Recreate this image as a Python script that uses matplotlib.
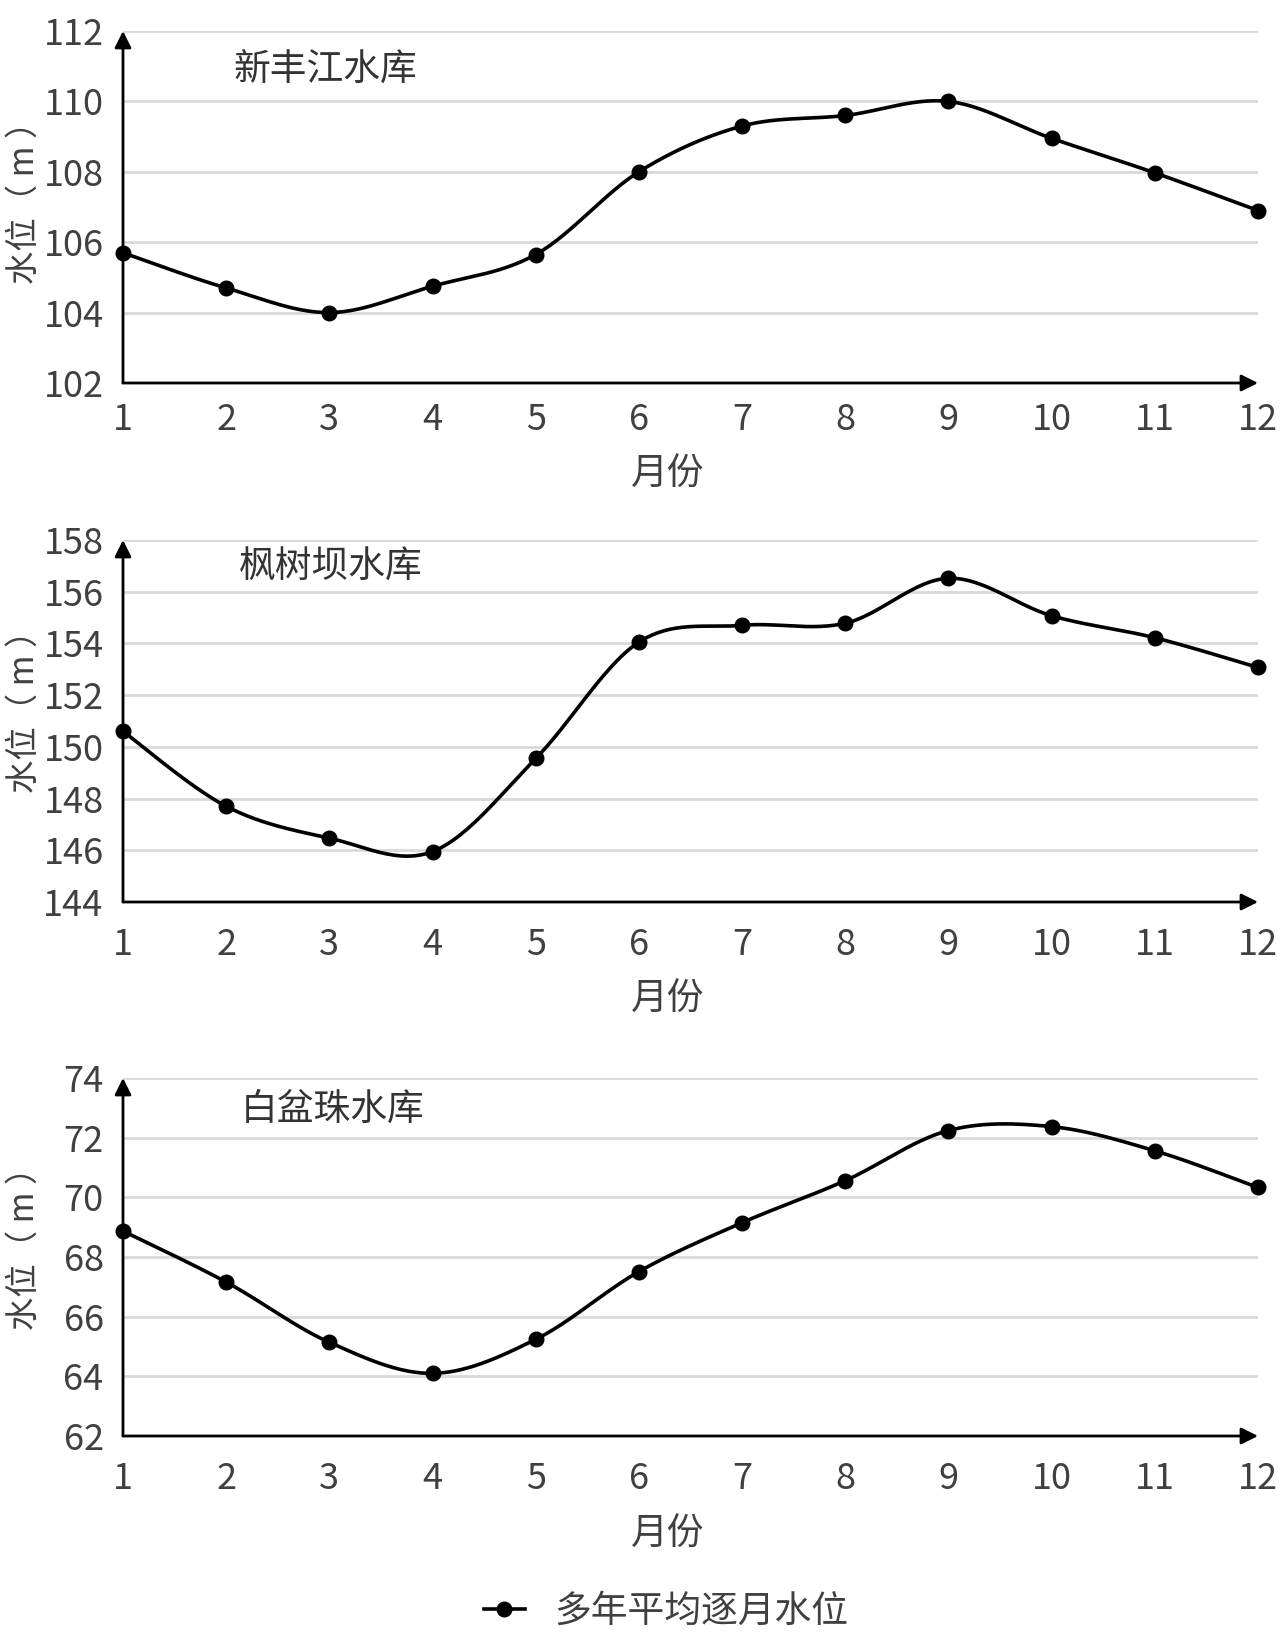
import numpy as np
import matplotlib
matplotlib.use('Agg')
import matplotlib.pyplot as plt
from matplotlib.lines import Line2D

plt.rcParams['font.family'] = ['Noto Sans CJK SC', 'DejaVu Sans']
plt.rcParams['font.weight'] = 'light'

# ---- data ----
months = [1, 2, 3, 4, 5, 6, 7, 8, 9, 10, 11, 12]
names = ['新丰江水库', '枫树坝水库', '白盆珠水库']
xfj = [105.7, 104.7, 104.0, 104.75, 105.65, 108.0, 109.3, 109.6, 110.0, 108.95, 107.97, 106.9]
fsb = [150.6, 147.7, 146.47, 145.95, 149.55, 154.05, 154.7, 154.78, 156.52, 155.07, 154.22, 153.07]
bpz = [68.87, 67.16, 65.14, 64.1, 65.24, 67.51, 69.15, 70.56, 72.24, 72.37, 71.56, 70.33]
ylims = [(102, 112), (144, 158), (62, 74)]
xlabel = '月份'
ylabel = '水位（ m ）'
legend_label = '多年平均逐月水位'

W, H = 1280, 1645
# pixel boxes: (top, bottom) of each plot area
boxes = [(31, 383), (540, 902), (1078, 1436)]
x0px, x1px = 123, 1258
title_px = [(233, 69), (239, 567), (241, 1109)]
xlab_px = [(668, 474), (668, 999), (668, 1534)]
ylab_px = [(24, 194), (24, 703), (24, 1240)]
xpads = [14, 18, 18]

txt = '#404040'


def smooth(x, y, n=30):
    # excel-like smoothed line (bezier through points)
    x = np.asarray(x, float); y = np.asarray(y, float)
    px = np.concatenate([[x[0]], x, [x[-1]]])
    py = np.concatenate([[y[0]], y, [y[-1]]])
    xs, ys = [], []
    t = np.linspace(0, 1, n)
    for i in range(1, len(px) - 2):
        p0 = np.array([px[i], py[i]]); p3 = np.array([px[i+1], py[i+1]])
        c1 = p0 + (np.array([px[i+1], py[i+1]]) - np.array([px[i-1], py[i-1]])) / 6
        c2 = p3 - (np.array([px[i+2], py[i+2]]) - np.array([px[i], py[i]])) / 6
        b = ((1-t)**3)[:, None]*p0 + (3*(1-t)**2*t)[:, None]*c1 + (3*(1-t)*t**2)[:, None]*c2 + (t**3)[:, None]*p3
        xs.append(b[:, 0]); ys.append(b[:, 1])
    return np.concatenate(xs), np.concatenate(ys)


fig = plt.figure(figsize=(W/100, H/100), dpi=100)

for k, vals in enumerate([xfj, fsb, bpz]):
    top, bot = boxes[k]
    ax = fig.add_axes([x0px/W, 1 - bot/H, (x1px - x0px)/W, (bot - top)/H])
    lo, hi = ylims[k]
    ax.set_xlim(1, 12)
    ax.set_ylim(lo, hi)
    ax.set_yticks(np.arange(lo, hi + 1, 2))
    ax.set_xticks(months)
    ax.yaxis.grid(True, color='#d9d9d9', lw=2)
    ax.set_axisbelow(True)
    for s in ax.spines.values():
        s.set_visible(False)
    ax.tick_params(length=0, labelsize=26, labelcolor=txt)
    ax.tick_params(axis='y', pad=14)
    ax.tick_params(axis='x', pad=xpads[k])

    # axes with arrows
    ax.annotate('', xy=(12, lo), xytext=(1, lo), xycoords='data',
                arrowprops=dict(arrowstyle='-|>', color='k', lw=2, mutation_scale=25,
                                shrinkA=0, shrinkB=0), annotation_clip=False)
    ax.annotate('', xy=(1, hi), xytext=(1, lo), xycoords='data',
                arrowprops=dict(arrowstyle='-|>', color='k', lw=2, mutation_scale=25,
                                shrinkA=0, shrinkB=0), annotation_clip=False)

    sx, sy = smooth(months, vals)
    ax.plot(sx, sy, color='k', lw=2.6, clip_on=False, zorder=3)
    ax.plot(months, vals, 'o', color='k', ms=10.5, clip_on=False, zorder=4)

    yx, yy = ylab_px[k]
    fig.text(yx/W, 1 - yy/H, ylabel, fontsize=24, color=txt, rotation=90,
             ha='center', va='center')

    tx, ty = title_px[k]
    fig.text(tx/W, 1 - ty/H, names[k], fontsize=26.5, color='#333333', va='center', ha='left')
    lx, ly = xlab_px[k]
    fig.text(lx/W, 1 - ly/H, xlabel, fontsize=26.5, color=txt, va='center', ha='center')

h = Line2D([], [], color='k', lw=2.6, marker='o', ms=10.5)
fig.legend([h], [legend_label], loc='center', bbox_to_anchor=(666/W, 1 - 1611/H),
           frameon=False, fontsize=26.5, handlelength=1.1, handletextpad=0.8, labelcolor=txt)

fig.savefig('out.png', dpi=100)
